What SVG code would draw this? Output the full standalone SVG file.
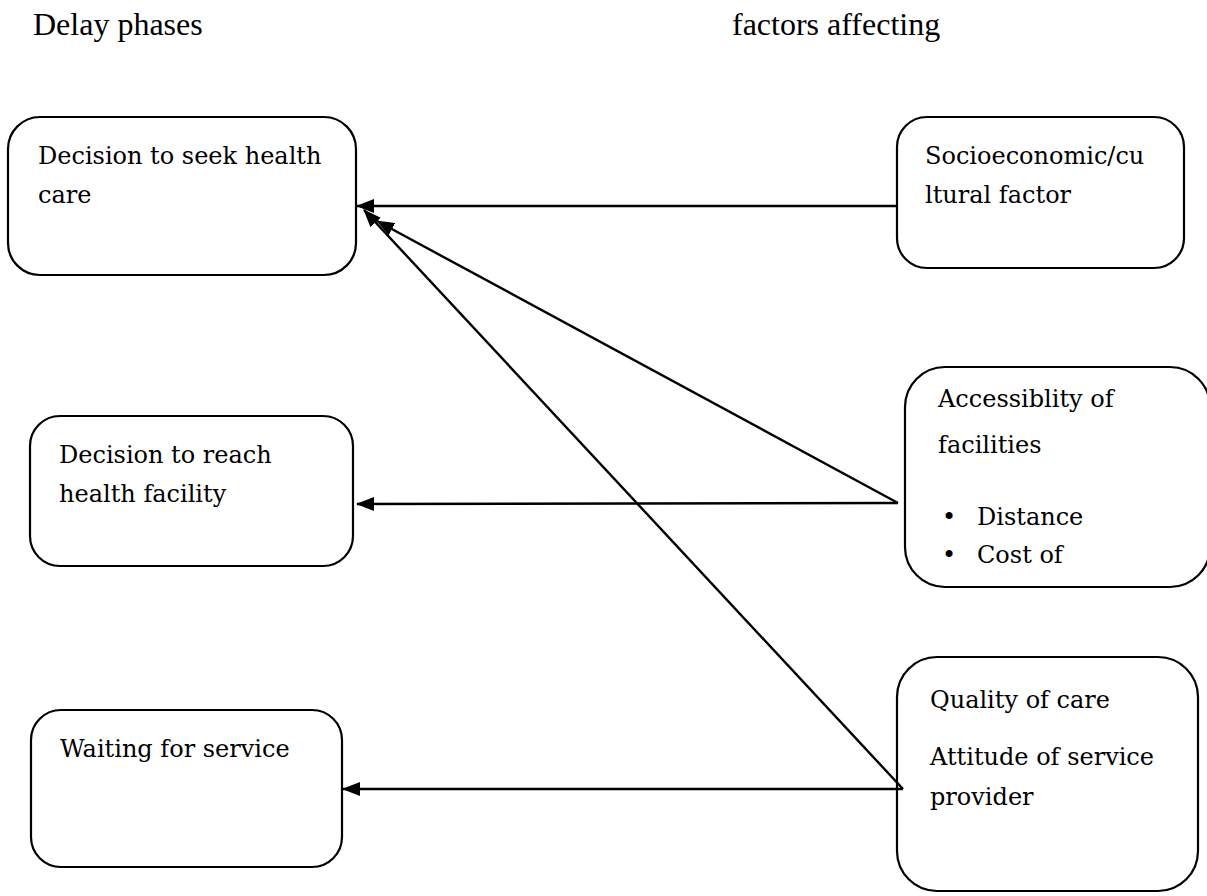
<svg xmlns="http://www.w3.org/2000/svg" width="1207" height="896" viewBox="0 0 1207 896">
<defs>
<marker id="ah" markerUnits="userSpaceOnUse" markerWidth="18" markerHeight="14" viewBox="0 0 18 14" refX="17" refY="7" orient="auto">
<path d="M0,0 L18,7 L0,14 Z" fill="#000"/>
</marker>
<style>
.box{fill:#fff;stroke:#000;stroke-width:2.2}
.t{font-family:"DejaVu Serif","Liberation Serif",serif;font-size:24px;fill:#000}
.h{font-family:"Liberation Serif","Times New Roman",serif;font-size:32px;fill:#000}
.c{stroke:#000;stroke-width:2.4;fill:none;marker-end:url(#ah)}
</style>
</defs>
<rect width="1207" height="896" fill="#fff"/>
<text class="h" x="33" y="35">Delay phases</text>
<text class="h" x="732" y="35">factors affecting</text>
<g id="n1"><rect class="box" x="8" y="117" width="348" height="158" rx="32"/>
<text class="t" x="38" y="164">Decision to seek health</text><text class="t" x="38" y="203">care</text></g>
<g id="n2"><rect class="box" x="30" y="416" width="323" height="150" rx="30"/>
<text class="t" x="59" y="463">Decision to reach</text><text class="t" x="59" y="502">health facility</text></g>
<g id="n3"><rect class="box" x="31" y="710" width="311" height="157" rx="30"/>
<text class="t" x="60" y="757">Waiting for service</text></g>
<g id="n4"><rect class="box" x="897" y="117" width="287" height="151" rx="30"/>
<text class="t" x="925" y="164">Socioeconomic/cu</text><text class="t" x="925" y="203">ltural factor</text></g>
<g id="n5"><rect class="box" x="905" y="367" width="305" height="220" rx="40"/>
<text class="t" x="938" y="407">Accessiblity of</text><text class="t" x="938" y="453">facilities</text>
<text class="t" x="942" y="525">•</text><text class="t" x="977" y="525">Distance</text>
<text class="t" x="942" y="563">•</text><text class="t" x="977" y="563">Cost of</text></g>
<g id="n6"><rect class="box" x="897" y="657" width="301" height="234" rx="40"/>
<text class="t" x="930" y="708">Quality of care</text><text class="t" x="930" y="765">Attitude of service</text><text class="t" x="930" y="805">provider</text></g>
<g id="connectors">
<line class="c" x1="897" y1="206" x2="357" y2="206"/>
<line class="c" x1="898" y1="503" x2="377" y2="221"/>
<line class="c" x1="903" y1="789" x2="364" y2="210"/>
<line class="c" x1="898" y1="503" x2="357" y2="504"/>
<line class="c" x1="903" y1="789" x2="343" y2="789"/>
</g>
</svg>
